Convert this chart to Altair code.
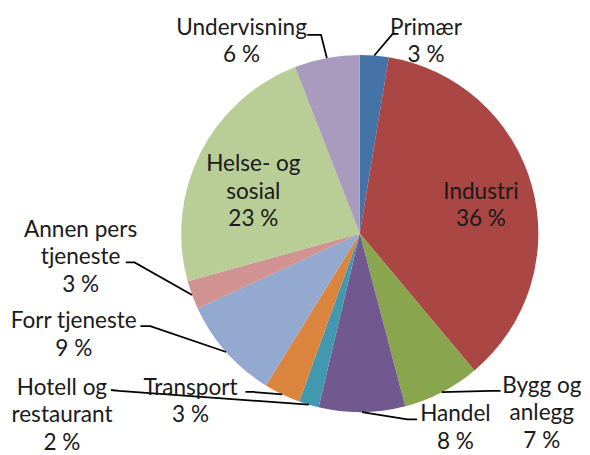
import math
import altair as alt
import pandas as pd

# ---- data ----
categories = ["Primær", "Industri", "Bygg og anlegg", "Handel", "Hotell og restaurant",
              "Transport", "Forr tjeneste", "Annen pers tjeneste", "Helse- og sosial", "Undervisning"]
label_lines = [["Primær"], ["Industri"], ["Bygg og", "anlegg"], ["Handel"], ["Hotell og", "restaurant"],
               ["Transport"], ["Forr tjeneste"], ["Annen pers", "tjeneste"], ["Helse- og", "sosial"],
               ["Undervisning"]]
shares = [2.6, 36.3, 7.0, 7.8, 1.8, 3.3, 9.3, 2.6, 23.4, 5.9]
pct_labels = ["3 %", "36 %", "7 %", "8 %", "2 %", "3 %", "9 %", "3 %", "23 %", "6 %"]
colors = ["#4572A7", "#AA4643", "#89A54E", "#71588F", "#4198AF",
          "#DB843D", "#93A9CF", "#D19392", "#B9CD96", "#A99BBD"]

# ---- layout (page pixel coordinates) ----
OFF = 8
W, H = 574, 439
CX, CY, R = 366.5 - OFF, 233.5 - OFF, 182
LINE_H = 28
# label block centre x, first line y
label_pos = [(434, 24), (490, 191), (552, 389), (464, 418), (63, 391),
             (194, 391), (75, 323), (82, 230), (258, 163), (246, 24)]
# leader: (elbow, end) or None
leaders = [((400, 30), (406, 30)), None, ((500, 394), (510, 394)), ((415, 423), (425, 423)),
           ((121, 394), (113, 393)), ((258, 395), (250, 395)), ((153, 328), (143, 328)),
           ((137, 263), (128, 263)), None, ((327, 31), (313, 31))]

total = sum(shares)
pie_df = pd.DataFrame({"cat": categories, "share": shares, "idx": list(range(len(categories)))})

text_rows = []
line_rows = []
cum = 0.0
for i, cat in enumerate(categories):
    mid = (cum + shares[i] / 2) / total * 2 * math.pi
    cum += shares[i]
    lx, ly = label_pos[i]
    lines = label_lines[i] + [pct_labels[i]]
    for k, t in enumerate(lines):
        text_rows.append({"x": lx - OFF, "y": ly - OFF + k * LINE_H, "t": t})
    if leaders[i] is not None:
        (ex, ey), (tx, ty) = leaders[i]
        sx = CX + R * math.sin(mid)
        sy = CY - R * math.cos(mid)
        line_rows += [
            {"cat": cat, "pt": 0, "x": sx, "y": sy},
            {"cat": cat, "pt": 1, "x": ex - OFF, "y": ey - OFF},
            {"cat": cat, "pt": 2, "x": tx - OFF, "y": ty - OFF},
        ]

text_df = pd.DataFrame(text_rows)
line_df = pd.DataFrame(line_rows)

xs = alt.Scale(domain=[0, W], range=[0, W])
ys = alt.Scale(domain=[0, H], range=[0, H])

pie = alt.Chart(pie_df).mark_arc(outerRadius=R).encode(
    theta=alt.Theta("share:Q", stack=True),
    order=alt.Order("idx:Q"),
    color=alt.Color("cat:N", scale=alt.Scale(domain=categories, range=colors), legend=None),
    x=alt.value(CX),
    y=alt.value(CY),
)

leader_layer = alt.Chart(line_df).mark_line(color="#000000", strokeWidth=1.8).encode(
    x=alt.X("x:Q", scale=xs, axis=None),
    y=alt.Y("y:Q", scale=ys, axis=None),
    detail="cat:N",
    order="pt:Q",
)

text_layer = alt.Chart(text_df).mark_text(
    font="Lato", fontSize=23, color="#1a1a1a", align="center", baseline="middle"
).encode(
    x=alt.X("x:Q", scale=xs, axis=None),
    y=alt.Y("y:Q", scale=ys, axis=None),
    text="t:N",
)

chart = alt.layer(pie, leader_layer, text_layer).properties(
    width=W, height=H, padding=0
).configure_view(stroke=None)

chart.save("out.html", embed_options={"renderer": "svg", "actions": False})
